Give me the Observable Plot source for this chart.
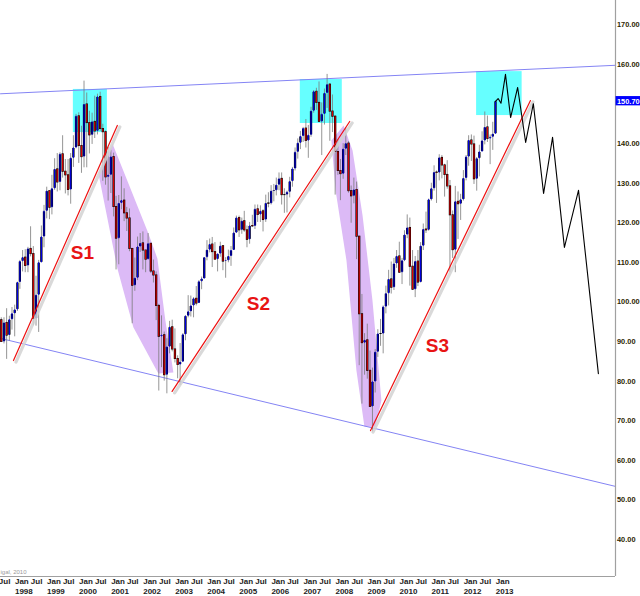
<!DOCTYPE html>
<html>
<head>
<meta charset="utf-8">
<script src="https://cdn.jsdelivr.net/npm/d3@7"></script>
<script src="https://cdn.jsdelivr.net/npm/@observablehq/plot@0.6"></script>
<style>
  html, body { margin: 0; padding: 0; background: #fff; }
  #chart svg { display: block; }
</style>
</head>
<body>
<div id="chart"></div>
<script>
// ---- Monthly OHLC, Aug 1997 .. Jan 2013 ----
const firstMonth = [1997, 8];
const open = [
  95.4, 89.9, 94.7, 91.5, 95.5,
  97.0, 98.0, 104.9, 110.2, 111.2, 109.1, 113.4, 112.1, 95.7, 101.7, 109.9, 116.4,
  122.9, 128.0, 123.8, 128.6, 133.5, 130.2, 137.3, 132.9, 132.0, 128.3, 136.3, 138.9,
  146.9, 139.4, 136.6, 149.9, 145.2, 142.1, 145.5, 143.1, 151.8, 143.7, 142.9, 131.5,
  132.0, 136.6, 124.0, 116.0, 124.9, 125.6, 122.4, 121.1, 113.4, 104.1, 106.0, 113.9,
  114.8, 113.0, 110.7, 114.7, 107.7, 106.7, 99.0, 91.2, 91.6, 81.5, 88.6, 93.6,
  88.0, 85.6, 84.1, 84.8, 91.7, 96.4, 97.5, 99.0, 100.8, 99.6, 105.1, 105.8,
  111.2, 113.1, 114.5, 112.6, 110.7, 112.1, 114.1, 110.2, 110.4, 111.5, 113.0, 117.4,
  121.2, 118.1, 120.4, 118.1, 115.7, 119.2, 119.1, 123.4, 122.0, 122.9, 120.7, 124.9,
  124.8, 128.0, 128.1, 129.5, 131.1, 127.0, 127.0, 127.7, 130.4, 133.6, 137.8, 140.1,
  141.8, 143.8, 140.7, 142.1, 148.2, 153.1, 150.3, 145.5, 147.4, 152.7, 154.9, 148.1,
  146.8, 137.9, 133.1, 132.3, 138.6, 140.0, 128.0, 126.7, 128.3, 116.5, 96.9, 89.6,
  90.3, 82.6, 73.5, 79.8, 87.3, 91.9, 91.9, 98.7, 102.1, 105.7, 103.6, 109.6,
  111.5, 107.4, 110.4, 116.9, 118.7, 108.9, 103.1, 110.2, 104.9, 114.1, 118.3, 118.1,
  125.8, 128.6, 132.7, 132.6, 136.4, 134.5, 132.1, 129.2, 121.9, 113.1, 125.3, 124.7,
  125.8, 131.2, 136.6, 140.8, 139.8, 131.0, 136.2, 137.9, 140.7, 144.1, 141.2, 141.6,
  142.4
];
const high = [
  96.0, 96.0, 98.3, 96.4, 98.6,
  99.2, 105.0, 110.5, 113.0, 113.2, 113.8, 119.0, 114.0, 106.5, 110.5, 119.2, 124.4,
  129.0, 128.0, 132.0, 136.2, 137.5, 137.7, 142.0, 136.0, 136.0, 137.5, 142.0, 147.4,
  147.8, 144.4, 155.8, 152.8, 148.2, 147.7, 152.0, 152.5, 153.0, 144.9, 143.2, 139.0,
  138.3, 137.6, 126.7, 126.9, 131.6, 128.6, 123.9, 123.5, 113.4, 111.1, 116.4, 117.3,
  117.7, 113.0, 117.3, 114.7, 110.6, 107.6, 99.4, 96.5, 92.4, 90.7, 95.1, 95.4,
  93.2, 86.4, 89.5, 92.0, 96.5, 101.6, 101.5, 101.1, 103.9, 105.4, 106.3, 111.2,
  115.5, 115.9, 116.3, 115.0, 112.1, 115.1, 114.1, 111.2, 113.1, 114.0, 118.7, 121.7,
  121.7, 121.2, 122.9, 119.2, 120.1, 121.9, 124.5, 124.5, 124.3, 123.3, 127.0, 127.6,
  129.4, 129.7, 131.3, 132.6, 132.6, 128.6, 128.0, 131.5, 134.0, 138.9, 141.2, 143.1,
  144.1, 146.1, 144.6, 149.2, 153.4, 154.0, 155.6, 150.3, 153.8, 157.5, 155.2, 152.3,
  147.1, 141.0, 136.0, 140.0, 144.0, 140.5, 129.3, 131.3, 130.3, 116.5, 101.9, 92.0,
  94.4, 87.6, 83.3, 88.0, 93.0, 95.6, 99.0, 104.0, 108.0, 110.1, 111.0, 113.0,
  115.1, 111.0, 118.0, 122.0, 121.2, 113.0, 111.5, 113.0, 115.0, 119.7, 122.7, 126.0,
  130.0, 134.4, 133.1, 137.2, 137.0, 134.8, 135.7, 130.7, 123.0, 129.2, 127.8, 127.2,
  133.2, 137.0, 142.0, 142.2, 141.9, 136.5, 139.6, 143.0, 148.0, 147.0, 142.2, 145.4,
  150.7
];
const low = [
  89.9, 89.4, 85.5, 90.1, 92.9,
  91.2, 97.6, 103.2, 107.6, 107.4, 107.4, 111.4, 94.0, 93.9, 92.3, 109.9, 113.7,
  121.0, 120.8, 122.0, 128.2, 127.8, 128.1, 131.3, 127.3, 126.8, 124.7, 134.0, 138.7,
  135.0, 132.5, 133.9, 133.9, 137.4, 139.8, 141.3, 142.2, 143.1, 130.5, 129.5, 125.5,
  127.4, 121.5, 108.1, 109.4, 123.3, 120.3, 117.8, 112.7, 94.5, 102.7, 105.4, 112.5,
  108.1, 107.4, 110.7, 107.2, 104.8, 95.3, 77.5, 83.4, 80.0, 76.8, 86.9, 87.4,
  84.6, 80.6, 78.9, 84.7, 90.2, 96.0, 96.2, 96.0, 99.0, 99.6, 103.1, 105.8,
  110.4, 112.4, 108.7, 110.7, 107.6, 111.3, 107.9, 106.0, 109.9, 109.0, 113.0, 117.3,
  116.3, 117.1, 117.6, 113.7, 114.6, 118.8, 118.3, 120.1, 120.1, 117.7, 120.1, 123.8,
  124.5, 125.3, 126.8, 128.1, 124.5, 122.4, 122.5, 126.3, 129.0, 133.1, 136.1, 138.5,
  140.3, 138.9, 136.3, 141.6, 147.7, 148.4, 145.4, 137.0, 144.7, 148.9, 140.6, 142.8,
  127.0, 132.0, 125.6, 131.0, 137.0, 127.5, 119.9, 124.8, 110.7, 83.9, 74.2, 81.5,
  80.5, 73.5, 67.1, 77.0, 86.0, 88.8, 86.9, 97.0, 99.0, 102.0, 102.9, 108.5,
  107.2, 104.4, 110.2, 116.0, 104.0, 102.9, 101.1, 103.9, 104.8, 113.0, 117.3, 117.9,
  125.5, 128.0, 124.9, 130.6, 131.1, 126.5, 128.5, 107.4, 111.0, 107.4, 115.8, 120.6,
  125.5, 130.6, 134.3, 135.5, 129.7, 128.0, 131.6, 137.9, 139.7, 140.3, 134.7, 138.3,
  142.4
];
const close = [
  89.9, 94.7, 91.5, 95.5, 97.0,
  98.0, 104.9, 110.2, 111.2, 109.1, 113.4, 112.1, 95.7, 101.7, 109.9, 116.4, 122.9,
  128.0, 123.8, 128.6, 133.5, 130.2, 137.3, 132.9, 132.0, 128.3, 136.3, 138.9, 146.9,
  139.4, 136.6, 149.9, 145.2, 142.1, 145.5, 143.1, 151.8, 143.7, 142.9, 131.5, 132.0,
  136.6, 124.0, 116.0, 124.9, 125.6, 122.4, 121.1, 113.4, 104.1, 106.0, 113.9, 114.8,
  113.0, 110.7, 114.7, 107.7, 106.7, 99.0, 91.2, 91.6, 81.5, 88.6, 93.6, 88.0,
  85.6, 84.1, 84.8, 91.7, 96.4, 97.5, 99.0, 100.8, 99.6, 105.1, 105.8, 111.2,
  113.1, 114.5, 112.6, 110.7, 112.1, 114.1, 110.2, 110.4, 111.5, 113.0, 117.4, 121.2,
  118.1, 120.4, 118.1, 115.7, 119.2, 119.1, 123.4, 122.0, 122.9, 120.7, 124.9, 124.8,
  128.0, 128.1, 129.5, 131.1, 127.0, 127.0, 127.7, 130.4, 133.6, 137.8, 140.1, 141.8,
  143.8, 140.7, 142.1, 148.2, 153.1, 150.3, 145.5, 147.4, 152.7, 154.9, 148.1, 146.8,
  137.9, 133.1, 132.3, 138.6, 140.0, 128.0, 126.7, 128.3, 116.5, 96.9, 89.6, 90.3,
  82.6, 73.5, 79.8, 87.3, 91.9, 91.9, 98.7, 102.1, 105.7, 103.6, 109.6, 111.5,
  107.4, 110.4, 116.9, 118.7, 108.9, 103.1, 110.2, 104.9, 114.1, 118.3, 118.1, 125.8,
  128.6, 132.7, 132.6, 136.4, 134.5, 132.1, 129.2, 121.9, 113.1, 125.3, 124.7, 125.8,
  131.2, 136.6, 140.8, 139.8, 131.0, 136.2, 137.9, 140.7, 144.1, 141.2, 141.6, 142.4,
  150.7
];

// ---- Projected path (decimal year, value) ----
const projT = [2013.04, 2013.12, 2013.21, 2013.35, 2013.51, 2013.73, 2013.98, 2014.22, 2014.54, 2014.82, 2015.19, 2015.63, 2016.25];
const projV = [150.7, 151.4, 150.2, 157.5, 146.6, 154.2, 140.3, 150.1, 127.4, 141.6, 113.8, 128.2, 81.9];

// ---- Channel lines ----
const upperT = [1997.595, 2016.783], upperV = [152.6, 159.8];
const lowerT = [1997.595, 2016.783], lowerV = [90.8, 53.4];

// ---- Support trend lines S1, S2, S3 ----
const trendNames = ["S1", "S2", "S3"];
const trendT = [[1998.0, 2001.24], [2002.95, 2008.49], [2009.14, 2014.13]];
const trendV = [[85.2, 144.6], [77.4, 145.6], [67.5, 150.9]];
const labelT = [2000.15, 2005.64, 2011.23];
const labelV = [112.3, 99.6, 89.0];

// ---- Cyan top boxes ----
const boxT1 = [1999.87, 2006.95, 2012.45], boxT2 = [2000.93, 2008.26, 2013.87];
const boxV1 = [142.8, 145.1, 147.1], boxV2 = [153.7, 156.2, 158.2];

// ---- Purple decline bands ----
const band1T = [2001.09, 2001.49, 2002.21, 2002.49, 2002.74, 2002.99, 2002.52, 2001.74, 2001.24, 2000.65];
const band1V = [140.0, 131.9, 117.3, 111.0, 95.3, 82.2, 81.9, 93.6, 108.5, 132.5];
const band2T = [2008.30, 2008.58, 2008.89, 2009.20, 2009.48, 2009.29, 2008.95, 2008.70, 2008.39, 2008.05, 2007.92];
const band2V = [144.6, 138.3, 121.9, 100.4, 75.1, 68.5, 68.5, 82.7, 110.5, 128.2, 140.8];

// ---- Axis ----
const yTicks = [40, 50, 60, 70, 80, 90, 100, 110, 120, 130, 140, 160, 170];
const lastPrice = 150.70;
const tickYears = [1998, 1999, 2000, 2001, 2002, 2003, 2004, 2005, 2006, 2007, 2008, 2009, 2010, 2011, 2012, 2013];

// ---- helpers ----
const toDate = t => {
  const y = Math.floor(t);
  const a = Date.UTC(y, 0, 1), b = Date.UTC(y + 1, 0, 1);
  return new Date(a + (t - y) * (b - a));
};
const rows = close.map((c, i) => ({
  date: new Date(Date.UTC(firstMonth[0], firstMonth[1] - 1 + i, 15)),
  open: open[i], high: high[i], low: low[i], close: c
}));
const proj = projT.map((t, i) => ({date: toDate(t), v: projV[i]}));
const upper = upperT.map((t, i) => ({date: toDate(t), v: upperV[i]}));
const lower = lowerT.map((t, i) => ({date: toDate(t), v: lowerV[i]}));
const trends = trendNames.flatMap((n, k) => trendT[k].map((t, j) => ({name: n, date: toDate(t), v: trendV[k][j]})));
const labels = trendNames.map((n, k) => ({name: n, date: toDate(labelT[k]), v: labelV[k]}));
const boxes = boxT1.map((t, i) => ({x1: toDate(t), x2: toDate(boxT2[i]), y1: boxV1[i], y2: boxV2[i]}));
const band1 = band1T.map((t, i) => ({date: toDate(t), v: band1V[i]}));
const band2 = band2T.map((t, i) => ({date: toDate(t), v: band2V[i]}));
const monthTicks = [{d: new Date(Date.UTC(1997, 6, 1)), m: "Jul"}];
tickYears.forEach(y => {
  monthTicks.push({d: new Date(Date.UTC(y, 0, 1)), m: "Jan"});
  if (y < 2013) monthTicks.push({d: new Date(Date.UTC(y, 6, 1)), m: "Jul"});
});
const yearTicks = tickYears.map(y => ({d: new Date(Date.UTC(y, 0, 1)), y: String(y)}));

const X0 = toDate(1997.595), X1 = toDate(2016.783);
const Y0 = 30.64, Y1 = 176.17;
const FONT = "'Liberation Sans', Arial, sans-serif";

const chart = Plot.plot({
  width: 640,
  height: 596,
  marginLeft: 0,
  marginRight: 25,
  marginTop: 0,
  marginBottom: 20,
  style: {fontFamily: FONT, background: "#fff", overflow: "visible"},
  x: {type: "utc", domain: [X0, X1], axis: null},
  y: {domain: [Y0, Y1], axis: null, label: null},
  marks: [
    // purple decline bands
    Plot.line(band1, {x: "date", y: "v", curve: "linear-closed", fill: "#dcbaf6", stroke: "none"}),
    Plot.line(band2, {x: "date", y: "v", curve: "linear-closed", fill: "#dcbaf6", stroke: "none"}),
    // cyan boxes
    Plot.rect(boxes, {x1: "x1", x2: "x2", y1: "y1", y2: "y2", fill: "#66ffff"}),
    // channel
    Plot.line(upper, {x: "date", y: "v", stroke: "#8484f4", strokeWidth: 1}),
    Plot.line(lower, {x: "date", y: "v", stroke: "#8484f4", strokeWidth: 1}),
    // candles
    Plot.ruleX(rows, {x: "date", y1: "low", y2: "high", stroke: "#7a7a7a", strokeWidth: 0.8}),
    Plot.ruleX(rows, {x: "date", y1: "open", y2: "close", stroke: "#000", strokeWidth: 2.3, insetTop: -0.5, insetBottom: -0.5}),
    Plot.ruleX(rows, {x: "date", y1: "open", y2: "close", stroke: d => d.close >= d.open ? "#0000e0" : "#d80000", strokeWidth: 1.2}),
    // trend lines with shadow
    Plot.line(trends, {x: "date", y: "v", z: "name", stroke: "#d2d2d2", strokeWidth: 3.2, dx: 2.5, dy: 1.5, strokeOpacity: 0.85}),
    Plot.line(trends, {x: "date", y: "v", z: "name", stroke: "#ee1111", strokeWidth: 1.2}),
    // projection
    Plot.line(proj, {x: "date", y: "v", stroke: "#000", strokeWidth: 1.1}),
    // S labels
    Plot.text(labels, {x: "date", y: "v", text: "name", fill: "#e81414", fontSize: 19, fontWeight: "bold"}),
    // borders
    Plot.ruleX([X1], {stroke: "#a0a0a0", strokeWidth: 1.2}),
    Plot.ruleY([Y0], {stroke: "#a0a0a0", strokeWidth: 1.2}),
    // y axis labels
    Plot.axisY(yTicks, {anchor: "right", tickSize: 0, tickPadding: 1.5, tickFormat: d => d.toFixed(2),
      fontSize: 7.4, fontWeight: "bold", fill: "#2e2600", label: null}),
    // last price tag
    Plot.rect([lastPrice], {x1: toDate(2016.80), x2: toDate(2017.7), y1: d => d - 1.15, y2: d => d + 1.2, fill: "#0000ff"}),
    Plot.text([lastPrice], {x: X1, y: d => d, text: d => d.toFixed(2), dx: 1.5, textAnchor: "start",
      fill: "#fff", fontSize: 7.4, fontWeight: "bold"}),
    // x axis labels
    Plot.text(monthTicks, {x: "d", text: "m", frameAnchor: "bottom", dy: 2, dx: 1.5, lineAnchor: "top",
      textAnchor: "start", fontSize: 8, fontWeight: "bold", fill: "#222"}),
    Plot.text(yearTicks, {x: "d", text: "y", frameAnchor: "bottom", dy: 12, dx: 1.5, lineAnchor: "top",
      textAnchor: "start", fontSize: 8, fontWeight: "bold", fill: "#222"}),
    // credit
    Plot.text(["igal, 2010"], {frameAnchor: "bottom-left", dy: -3, dx: 0, textAnchor: "start",
      fontSize: 6, fill: "#9a9a9a"})
  ]
});
document.getElementById("chart").appendChild(chart);
</script>
</body>
</html>
